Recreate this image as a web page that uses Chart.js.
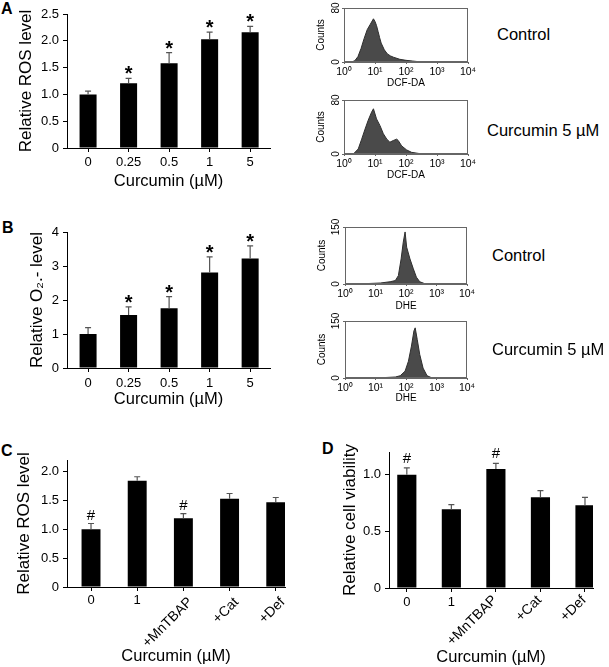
<!DOCTYPE html>
<html>
<head>
<meta charset="utf-8">
<script src="https://cdn.jsdelivr.net/npm/chart.js@4.4.1/dist/chart.umd.min.js"></script>
<style>
body { margin: 0; background: #fff; width: 609px; height: 667px; position: relative; overflow: hidden; font-family: 'Liberation Sans', Arial, sans-serif; }
canvas, .t { position: absolute; }
.t { font-size: 16.5px; line-height: 19px; white-space: nowrap; color: #000; }
.p { font-weight: bold; font-size: 16px; line-height: 16px; }
</style>
</head>
<body>
<div class="t p" style="left:1px;top:1px">A</div>
<div class="t p" style="left:2px;top:220px">B</div>
<div class="t p" style="left:1px;top:443px">C</div>
<div class="t p" style="left:322px;top:441px">D</div>

<canvas id="chartA" width="280" height="200" style="left:0;top:0"></canvas>
<canvas id="chartB" width="280" height="200" style="left:0;top:216px"></canvas>
<canvas id="chartC" width="300" height="227" style="left:0;top:440px"></canvas>
<canvas id="chartD" width="309" height="227" style="left:300px;top:440px"></canvas>

<canvas id="histDcf1" width="180" height="92" style="left:300px;top:0"></canvas>
<canvas id="histDcf2" width="180" height="92" style="left:300px;top:92px"></canvas>
<canvas id="histDhe1" width="180" height="95" style="left:300px;top:219px"></canvas>
<canvas id="histDhe2" width="180" height="95" style="left:300px;top:313px"></canvas>

<div class="t" style="left:497px;top:25px">Control</div>
<div class="t" style="left:487px;top:121px">Curcumin 5 µM</div>
<div class="t" style="left:492px;top:246px">Control</div>
<div class="t" style="left:492px;top:340px">Curcumin 5 µM</div>

<script>
// doses for A and B
const doseLabels = ['0', '0.25', '0.5', '1', '5'];
const rosA = [1.0, 1.21, 1.58, 2.03, 2.16];
const rosAErr = [0.06, 0.09, 0.20, 0.13, 0.11];
const o2B = [1.0, 1.56, 1.76, 2.81, 3.22];
const o2BErr = [0.19, 0.24, 0.34, 0.46, 0.37];
const starsAB = ['', '*', '*', '*', '*'];

// treatments for C and D
const treatLabels = ['0', '1', '+MnTBAP', '+Cat', '+Def'];
const rosC = [1.0, 1.84, 1.19, 1.53, 1.47];
const rosCErr = [0.10, 0.07, 0.08, 0.09, 0.08];
const viabD = [1.0, 0.695, 1.05, 0.80, 0.73];
const viabDErr = [0.06, 0.04, 0.05, 0.06, 0.07];
const hashCD = ['#', '', '#', '', ''];

// flow histograms (fluorescence intensity, counts)
const logTicks = [1, 10, 100, 1000, 10000];
const logTickLabels = ['10⁰', '10¹', '10²', '10³', '10⁴'];

const dcfCtrlX = [1, 1.78, 2.24, 2.82, 3.55, 4.47, 5.62, 7.08, 8.91, 10, 11.2, 12.6, 14.1, 15.8, 20, 25.1, 31.6, 39.8, 63.1, 100, 158, 251, 398, 10000];
const dcfCtrlY = [0, 0, 2, 8, 20, 35, 48, 56, 64, 60, 54, 45, 36, 28, 18, 12, 9, 7, 4, 2.5, 1.5, 0.5, 0, 0];

const dcfCurX = [1, 2.0, 2.88, 3.72, 4.79, 6.03, 7.76, 8.91, 11.2, 14.5, 18.6, 24.0, 30.2, 38.9, 50.1, 56.2, 72.4, 105, 151, 282, 501, 10000];
const dcfCurY = [0, 0, 7.5, 22, 37, 50, 62, 67, 52, 42, 30, 22, 17.5, 20, 22, 20, 12, 6, 2.5, 0.5, 0, 0];

const dheCtrlX = [1, 2.0, 5.01, 14.5, 30.2, 44.7, 56.2, 69.2, 81.3, 93.3, 105, 135, 174, 219, 282, 407, 631, 10000];
const dheCtrlY = [0, 0.5, 1, 2.6, 6, 9, 22, 66, 110, 137, 97, 66, 40, 18, 6, 1, 0, 0];

const dheCurX = [1, 18.6, 44.7, 64.6, 93.3, 120, 151, 182, 200, 234, 282, 363, 490, 676, 1000, 10000];
const dheCurY = [0, 1, 2.6, 6, 18, 44, 84, 124, 132, 101, 62, 26, 6, 1, 0, 0];

Chart.defaults.font.family = "'Liberation Sans', Arial, sans-serif";
Chart.defaults.color = '#000';

// error bars + significance marks above bars
const errBars = {
    id: 'errBars',
    afterDatasetsDraw(chart, args, o) {
        const ctx = chart.ctx;
        const y = chart.scales.y;
        const vals = chart.data.datasets[0].data;
        ctx.save();
        chart.getDatasetMeta(0).data.forEach((b, i) => {
            const top = y.getPixelForValue(vals[i].y + o.err[i]);
            ctx.strokeStyle = '#555';
            ctx.lineWidth = 1.2;
            ctx.beginPath();
            ctx.moveTo(b.x, b.y);
            ctx.lineTo(b.x, top);
            ctx.moveTo(b.x - 3, top);
            ctx.lineTo(b.x + 3, top);
            ctx.stroke();
            if (o.marks[i]) {
                ctx.fillStyle = '#000';
                ctx.font = o.markFont;
                ctx.textAlign = 'center';
                ctx.textBaseline = 'alphabetic';
                ctx.fillText(o.marks[i], b.x, top + o.markDy);
            }
        });
        ctx.restore();
    }
};

// category labels under each bar; long ones slanted
const xLabels = {
    id: 'xLabels',
    afterDraw(chart, args, o) {
        const ctx = chart.ctx;
        const bottom = chart.chartArea.bottom;
        const bars = chart.getDatasetMeta(0).data;
        chart.data.labels.forEach((lab, i) => {
            const px = bars[i].x;
            ctx.save();
            ctx.fillStyle = '#000';
            ctx.textBaseline = 'middle';
            if (!o.slant || lab.length <= 1) {
                ctx.font = "13px 'Liberation Sans', Arial, sans-serif";
                ctx.textAlign = 'center';
                ctx.fillText(lab, px, bottom + o.flatDy);
            } else {
                ctx.font = "14px 'Liberation Sans', Arial, sans-serif";
                ctx.translate(px + o.dx, bottom + o.dy);
                ctx.rotate(-Math.PI / 4);
                ctx.textAlign = 'right';
                ctx.fillText(lab, 0, 0);
            }
            ctx.restore();
        });
    }
};

// box round the histogram plot area
const frame = {
    id: 'frame',
    afterDraw(chart) {
        const a = chart.chartArea;
        const ctx = chart.ctx;
        ctx.save();
        ctx.strokeStyle = '#666';
        ctx.lineWidth = 1;
        ctx.strokeRect(a.left + 0.5, a.top + 0.5, a.right - a.left - 1, a.bottom - a.top - 1);
        ctx.restore();
    }
};

function barChart(id, c) {
    return new Chart(document.getElementById(id), {
        type: 'bar',
        data: {
            labels: c.labels,
            datasets: [{
                data: c.values.map((v, i) => ({ x: i, y: v })),
                backgroundColor: '#000',
                barPercentage: c.barPct,
                categoryPercentage: 1
            }]
        },
        options: {
            responsive: false,
            animation: false,
            layout: { padding: { top: c.area.top, right: c.w - c.area.right, left: 0, bottom: 0 } },
            plugins: {
                legend: { display: false },
                tooltip: { enabled: false },
                errBars: { err: c.err, marks: c.marks, markFont: c.markFont, markDy: c.markDy },
                xLabels: c.xlab
            },
            scales: {
                x: {
                    type: 'linear',
                    min: c.xMin,
                    max: c.xMax,
                    offset: false,
                    // tick marks sit between the bars
                    afterBuildTicks: s => { s.ticks = c.labels.slice(1).map((_, i) => ({ value: i + 0.5 })); },
                    afterFit: s => { s.height = c.h - c.area.bottom; },
                    ticks: { display: false },
                    grid: { drawOnChartArea: false, tickLength: 4, color: '#000' },
                    border: { color: '#000' },
                    title: { display: true, text: 'Curcumin (µM)', font: { size: 16.5 }, padding: { top: 0, bottom: c.xtPad } }
                },
                y: {
                    min: 0,
                    max: c.yMax,
                    afterFit: s => { s.width = c.area.left; },
                    ticks: {
                        stepSize: c.step,
                        includeBounds: false,
                        font: { size: 13 },
                        padding: 4,
                        callback: v => v === 0 ? '0' : v.toFixed(c.dec)
                    },
                    grid: { drawOnChartArea: false, tickLength: 4, color: '#000' },
                    border: { color: '#000' },
                    title: { display: true, text: c.yTitle, font: { size: 17 }, padding: { top: c.ytPad, bottom: 0 } }
                }
            }
        },
        plugins: [errBars, xLabels]
    });
}

function histChart(id, xs, ys, yMax, xTitle, l) {
    return new Chart(document.getElementById(id), {
        type: 'line',
        data: {
            datasets: [{
                data: xs.map((v, i) => ({ x: v, y: ys[i] })),
                fill: 'origin',
                backgroundColor: '#4a4a4a',
                borderColor: '#2e2e2e',
                borderWidth: 1,
                pointRadius: 0,
                tension: 0
            }]
        },
        options: {
            responsive: false,
            animation: false,
            layout: { padding: { top: l.top, right: l.right, left: 0, bottom: 0 } },
            plugins: { legend: { display: false }, tooltip: { enabled: false } },
            scales: {
                x: {
                    type: 'logarithmic',
                    min: 1,
                    max: 10000,
                    afterBuildTicks: s => { s.ticks = logTicks.map(v => ({ value: v })); },
                    afterFit: s => { s.height = l.xh; },
                    ticks: {
                        callback: v => logTickLabels[logTicks.indexOf(v)],
                        font: { size: 10.5 }, padding: 2, maxRotation: 0, autoSkip: false
                    },
                    grid: { drawOnChartArea: false, tickLength: 2, color: '#666' },
                    border: { color: '#666' },
                    title: { display: true, text: xTitle, font: { size: 10 }, padding: { top: 0, bottom: l.tb } }
                },
                y: {
                    min: 0,
                    max: yMax,
                    afterBuildTicks: s => { s.ticks = [{ value: 0 }, { value: yMax }]; },
                    afterFit: s => { s.width = l.left; },
                    ticks: { minRotation: 90, maxRotation: 90, crossAlign: 'center', font: { size: 10 }, padding: l.tpad },
                    grid: { drawOnChartArea: false, tickLength: 2, color: '#666' },
                    border: { color: '#666' },
                    title: { display: true, text: 'Counts', font: { size: 10 }, padding: { top: l.tp, bottom: 0 } }
                }
            }
        },
        plugins: [frame]
    });
}

barChart('chartA', {
    labels: doseLabels, values: rosA, err: rosAErr, marks: starsAB,
    w: 280, h: 200, area: { left: 67, top: 14, right: 270, bottom: 148 },
    xMin: -0.52, xMax: 4.49,
    yMax: 2.5, step: 0.5, dec: 1, yTitle: 'Relative ROS level',
    ytPad: 16, xtPad: 8.4, barPct: 0.42, markFont: "bold 20px 'Liberation Sans', Arial", markDy: 2,
    xlab: { slant: false, flatDy: 14 }
});

barChart('chartB', {
    labels: doseLabels, values: o2B, err: o2BErr, marks: starsAB,
    w: 280, h: 200, area: { left: 67, top: 16, right: 270, bottom: 152 },
    xMin: -0.52, xMax: 4.49,
    yMax: 4, step: 1, dec: 0, yTitle: 'Relative O₂.- level',
    ytPad: 27, xtPad: 6.4, barPct: 0.42, markFont: "bold 20px 'Liberation Sans', Arial", markDy: 2,
    xlab: { slant: false, flatDy: 15 }
});

barChart('chartC', {
    labels: treatLabels, values: rosC, err: rosCErr, marks: hashCD,
    w: 300, h: 227, area: { left: 67, top: 20, right: 285, bottom: 147 },
    xMin: -0.52, xMax: 4.2,
    yMax: 2.2, step: 0.5, dec: 1, yTitle: 'Relative ROS level',
    ytPad: 14, xtPad: 0.4, barPct: 0.41, markFont: "15px 'Liberation Sans', Arial", markDy: -4,
    xlab: { slant: true, flatDy: 13, dx: 7, dy: 13 }
});

barChart('chartD', {
    labels: treatLabels, values: viabD, err: viabDErr, marks: hashCD,
    w: 309, h: 227, area: { left: 89, top: 12, right: 293, bottom: 148 },
    xMin: -0.4, xMax: 4.18,
    yMax: 1.2, step: 0.5, dec: 1, yTitle: 'Relative cell viability',
    ytPad: 40, xtPad: 0, barPct: 0.43, markFont: "15px 'Liberation Sans', Arial", markDy: -5,
    xlab: { slant: true, flatDy: 14, dx: -1, dy: 10 }
});

histChart('histDcf1', dcfCtrlX, dcfCtrlY, 80, 'DCF-DA', { left: 44, top: 8, right: 12, xh: 30, tb: 3, tp: 15, tpad: 0 });
histChart('histDcf2', dcfCurX, dcfCurY, 80, 'DCF-DA', { left: 44, top: 8, right: 12, xh: 30, tb: 3, tp: 15, tpad: 0 });
histChart('histDhe1', dheCtrlX, dheCtrlY, 150, 'DHE', { left: 45, top: 8, right: 13, xh: 30, tb: 2, tp: 16, tpad: -2 });
histChart('histDhe2', dheCurX, dheCurY, 150, 'DHE', { left: 45, top: 8, right: 13, xh: 30, tb: 4, tp: 16, tpad: -2 });
</script>
</body>
</html>
